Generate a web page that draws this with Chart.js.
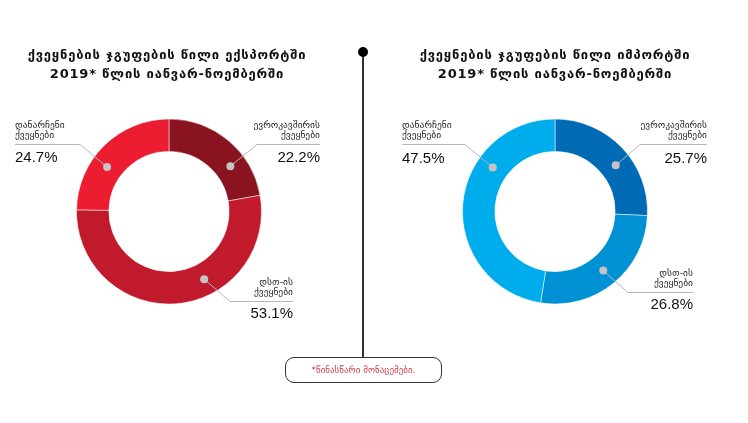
<!DOCTYPE html>
<html>
<head>
<meta charset="utf-8">
<script src="https://cdn.jsdelivr.net/npm/chart.js@4.4.1/dist/chart.umd.min.js"></script>
<style>
  body { margin: 0; background: #fff; }
  #wrap { position: relative; width: 748px; height: 423px; overflow: hidden; font-family: "DejaVu Sans", sans-serif; }
  canvas { position: absolute; top: 0; }
  .title { position: absolute; top: 45px; width: 340px; text-align: center; font-weight: bold; font-size: 13px; letter-spacing: 0.8px; line-height: 19px; color: #111; }
  #divider { position: absolute; left: 362px; top: 52px; width: 1.5px; height: 305px; background: #333; }
  #pin { position: absolute; left: 358px; top: 47px; width: 10px; height: 10px; border-radius: 50%; background: #000; }
  #note { position: absolute; left: 285px; top: 357px; width: 155px; height: 24px; border: 1px solid #333; border-radius: 9px;
          font-size: 9px; line-height: 24px; text-align: center; color: #cc3a48; }
</style>
</head>
<body>
<div id="wrap">
  <canvas id="exportChart" width="374" height="423" style="left:0"></canvas>
  <canvas id="importChart" width="374" height="423" style="left:374px"></canvas>
  <div class="title" style="left:-3px">ქვეყნების ჯგუფების წილი ექსპორტში<br>2019* წლის იანვარ-ნოემბერში</div>
  <div class="title" style="left:385px">ქვეყნების ჯგუფების წილი იმპორტში<br>2019* წლის იანვარ-ნოემბერში</div>
  <div id="divider"></div>
  <div id="pin"></div>
  <div id="note">*წინასწარი მონაცემები.</div>
</div>
<script>
// data
var categories = ['ევროკავშირის ქვეყნები', 'დსთ-ის ქვეყნები', 'დანარჩენი ქვეყნები'];
var exportShare = [22.2, 53.1, 24.7];
var importShare = [25.7, 26.8, 47.5];

var exportColors = ['#8a1320', '#c01a2c', '#ec1c31'];
var importColors = ['#006bb4', '#0090d4', '#00adec'];

// callout layout: f = where the dot sits inside the slice, elbow/end relative to the ring centre
var exportCallouts = [
    { f: 0.67, ex: 88, ey: -67, endX: 151, align: 'right', pctDy: 13 },
    { f: 0.38, ex: 61, ey: 90, endX: 124, align: 'right', pctDy: 12 },
    { f: 0.39, ex: -89, ey: -67, endX: -154, align: 'left', pctDy: 13 }
];
var importCallouts = [
    { f: 0.57, ex: 85, ey: -67, endX: 152, align: 'right', pctDy: 14 },
    { f: 0.50, ex: 73, ey: 81, endX: 138, align: 'right', pctDy: 12 },
    { f: 0.68, ex: -90, ey: -67, endX: -153, align: 'left', pctDy: 14 }
];

var calloutPlugin = {
    id: 'callouts',
    afterDatasetsDraw: function(chart, args, opts) {
        var ctx = chart.ctx;
        var meta = chart.getDatasetMeta(0);
        var values = chart.data.datasets[0].data;
        opts.items.forEach(function(c, i) {
            var arc = meta.data[i].getProps(['x', 'y', 'startAngle', 'endAngle', 'innerRadius', 'outerRadius'], true);
            var a = arc.startAngle + c.f * (arc.endAngle - arc.startAngle);
            var r = (arc.innerRadius + arc.outerRadius) / 2;
            var dx = arc.x + r * Math.cos(a), dy = arc.y + r * Math.sin(a);
            var ex = arc.x + c.ex, ey = arc.y + c.ey, endX = arc.x + c.endX;

            ctx.save();
            ctx.strokeStyle = '#b8b8b8';
            ctx.lineWidth = 1;
            ctx.beginPath();
            ctx.moveTo(dx, dy);
            ctx.lineTo(ex, ey);
            ctx.lineTo(endX, ey);
            ctx.stroke();
            ctx.fillStyle = '#c4c4c4';
            ctx.beginPath();
            ctx.arc(dx, dy, 4, 0, Math.PI * 2);
            ctx.fill();

            var words = chart.data.labels[i].split(' ');
            ctx.textAlign = c.align;
            ctx.textBaseline = 'middle';
            ctx.fillStyle = '#222';
            ctx.font = '9.5px "DejaVu Sans"';
            ctx.fillText(words[0], endX, ey - 19);
            ctx.fillText(words[1], endX, ey - 9);
            ctx.font = '15px "Liberation Sans", Arial';
            ctx.fillStyle = '#111';
            ctx.fillText(values[i].toFixed(1) + '%', endX, ey + c.pctDy);
            ctx.restore();
        });
    }
};

function buildDonut(id, values, colors, callouts, pad) {
    return new Chart(document.getElementById(id), {
        type: 'doughnut',
        data: {
            labels: categories,
            datasets: [{
                data: values,
                backgroundColor: colors,
                borderColor: 'rgba(255,255,255,0.5)',
                borderWidth: 1
            }]
        },
        options: {
            responsive: false,
            animation: false,
            cutout: '65%',
            layout: { padding: pad },
            plugins: {
                legend: { display: false },
                tooltip: { enabled: false },
                callouts: { items: callouts }
            }
        },
        plugins: [calloutPlugin]
    });
}

buildDonut('exportChart', exportShare, exportColors, exportCallouts, { left: 76, right: 112, top: 118, bottom: 118 });
buildDonut('importChart', importShare, importColors, importCallouts, { left: 88, right: 100, top: 118, bottom: 118 });
</script>
</body>
</html>
